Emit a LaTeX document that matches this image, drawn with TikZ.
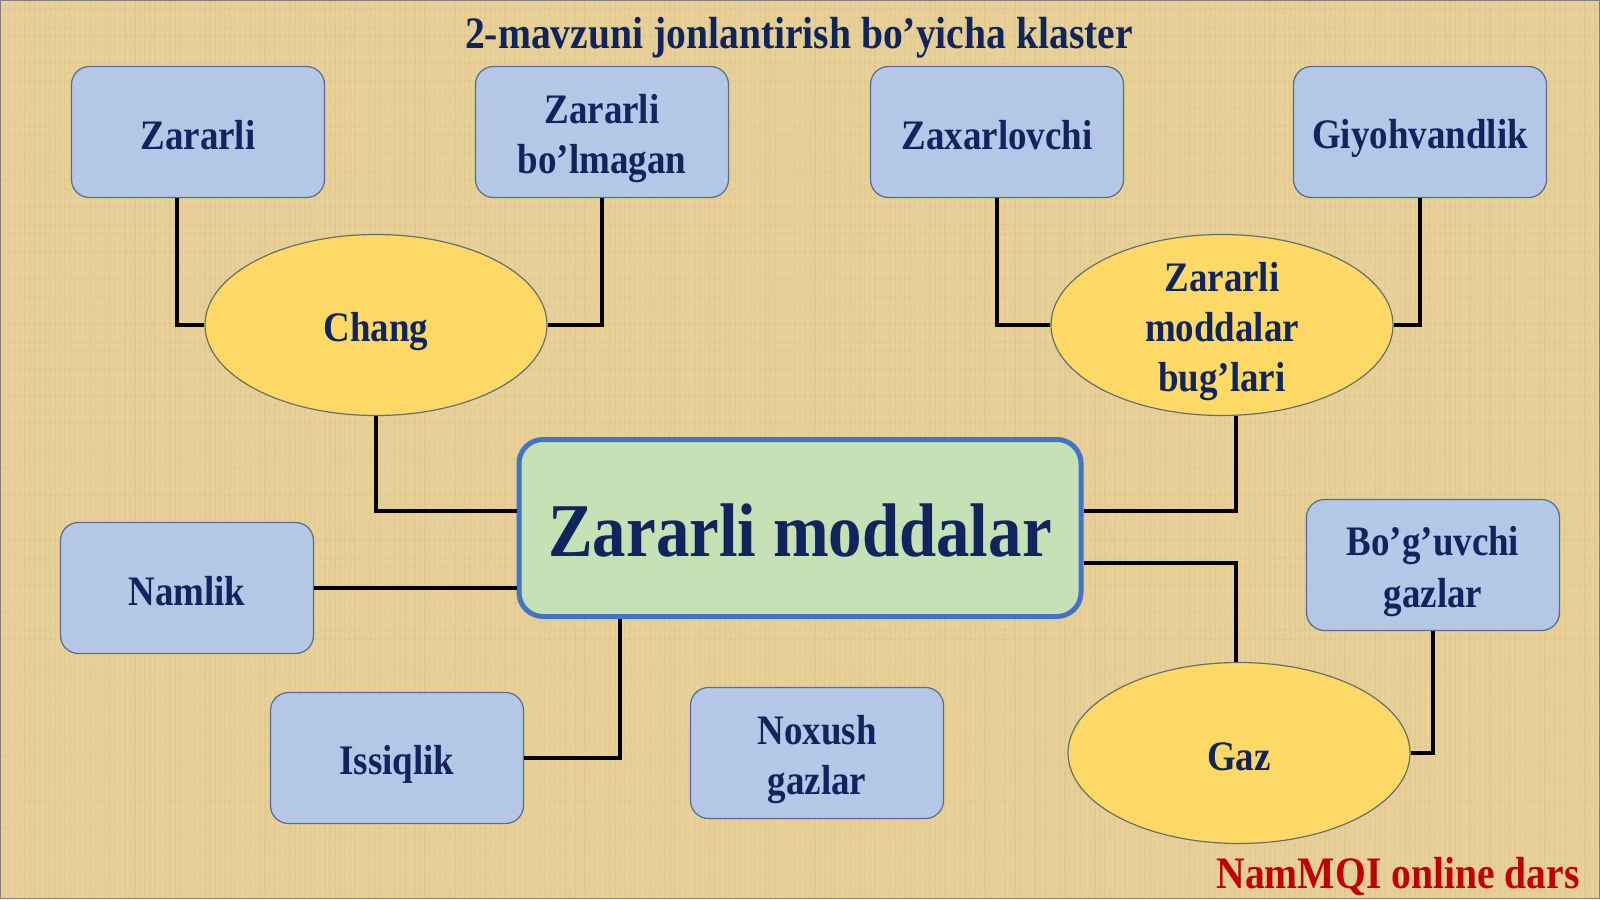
\documentclass[tikz,border=0pt]{standalone}
\usepackage{fontspec}
\setmainfont[FakeStretch=0.88]{Liberation Serif}
\usetikzlibrary{shapes.geometric}
\definecolor{bgpap}{RGB}{232,209,152}
\definecolor{bgline}{RGB}{200,172,110}
\definecolor{boxfill}{RGB}{180,199,231}
\definecolor{boxdraw}{RGB}{84,110,140}
\definecolor{ellfill}{RGB}{255,217,102}
\definecolor{elldraw}{RGB}{100,112,112}
\definecolor{cenfill}{RGB}{197,224,180}
\definecolor{cendraw}{RGB}{68,114,196}
\definecolor{navy}{RGB}{16,36,94}
\definecolor{redtxt}{RGB}{192,0,0}
\newcommand{\ls}{\rule[-7pt]{0pt}{49pt}}
\tikzset{
  leaf/.style={draw=boxdraw, line width=1.2pt, fill=boxfill, rounded corners=18pt,
    minimum width=253pt, minimum height=131pt, inner sep=0pt, align=center,
    text=navy, font=\bfseries\fontsize{42}{48}\selectfont},
  hub/.style={draw=elldraw, line width=1.2pt, fill=ellfill, ellipse,
    minimum width=342pt, minimum height=181pt, inner sep=0pt},
  hubtxt/.style={inner sep=0pt, align=center,
    text=navy, font=\bfseries\fontsize{42}{48}\selectfont},
  core/.style={draw=cendraw, line width=5pt, fill=cenfill, rounded corners=24pt,
    minimum width=562pt, minimum height=177pt, inner sep=0pt, align=center,
    text=navy, font=\bfseries\fontsize{76}{80}\selectfont},
  heading/.style={text=navy, font=\bfseries\fontsize{45}{50}\selectfont},
  credit/.style={text=redtxt, font=\bfseries\fontsize{45}{50}\selectfont, anchor=east},
  conn/.style={draw=black, line width=4.5pt}
}
\begin{document}
\begin{tikzpicture}[x=1pt,y=-1pt]
\useasboundingbox (0,0) rectangle (1600,899);
\fill[bgpap] (0,0) rectangle (1600,899);
\pgfmathsetseed{7}
\foreach \i in {0,5,...,1600}{
  \pgfmathsetmacro{\op}{0.05+0.14*rnd}
  \draw[bgline, line width=1.5pt, opacity=\op] (\i,0) -- (\i,899);
}
\foreach \j in {0,9,...,899}{
  \pgfmathsetmacro{\op}{0.03+0.08*rnd}
  \draw[bgline, line width=1.2pt, opacity=\op] (0,\j) -- (1600,\j);
}
\draw[gray, line width=1pt] (0.5,0.5) rectangle (1599.5,898.5);

\node[heading] (title) at (799,38) {2-mavzuni jonlantirish bo’yicha klaster};

\node[leaf] (zararli) at (198,132) {\ls Zararli};
\node[leaf] (zbolm) at (602,132) {\ls Zararli\\\ls bo’lmagan};
\node[leaf] (zax) at (997,132) {\ls Zaxarlovchi};
\node[leaf] (giy) at (1420,132) {\ls Giyohvandlik};

\node[hub] (chang) at (376,325) {};
\node[hubtxt] (changtxt) at (chang) {\ls Chang};
\node[hub] (bug) at (1222,325) {};
\node[hubtxt] (bugtxt) at (bug) {\ls Zararli\\\ls moddalar\\\ls bug’lari};

\node[core] (core) at (800,528) {\rule{0pt}{58pt}Zararli moddalar};

\node[leaf] (namlik) at (187,588) {\ls Namlik};
\node[leaf] (issiq) at (397,758) {\ls Issiqlik};
\node[leaf] (noxush) at (817,753) {\ls Noxush\\\ls gazlar};
\node[leaf] (bog) at (1433,565) {\ls Bo’g’uvchi\\\ls gazlar};
\node[hub] (gaz) at (1239,753) {};
\node[hubtxt] (gaztxt) at (gaz) {\ls Gaz};

\node[credit] (sign) at (1583,877) {NamMQI online dars};

\path[conn] ([xshift=-21pt]zararli.south) |- (chang.west);
\path[conn] (zbolm.south) |- (chang.east);
\path[conn] (chang.south) |- ([yshift=17pt]core.west);
\path[conn] (zax.south) |- (bug.west);
\path[conn] (giy.south) |- (bug.east);
\path[conn] ([xshift=14pt]bug.south) |- ([yshift=17pt]core.east);
\path[conn] ([yshift=-35pt]core.east) -| ([xshift=-3pt]gaz.north);
\path[conn] (namlik.east) -- (namlik.east -| core.west);
\path[conn] ([xshift=-180pt]core.south) |- (issiq.east);
\path[conn] (bog.south) |- (gaz.east);
\end{tikzpicture}
\end{document}
